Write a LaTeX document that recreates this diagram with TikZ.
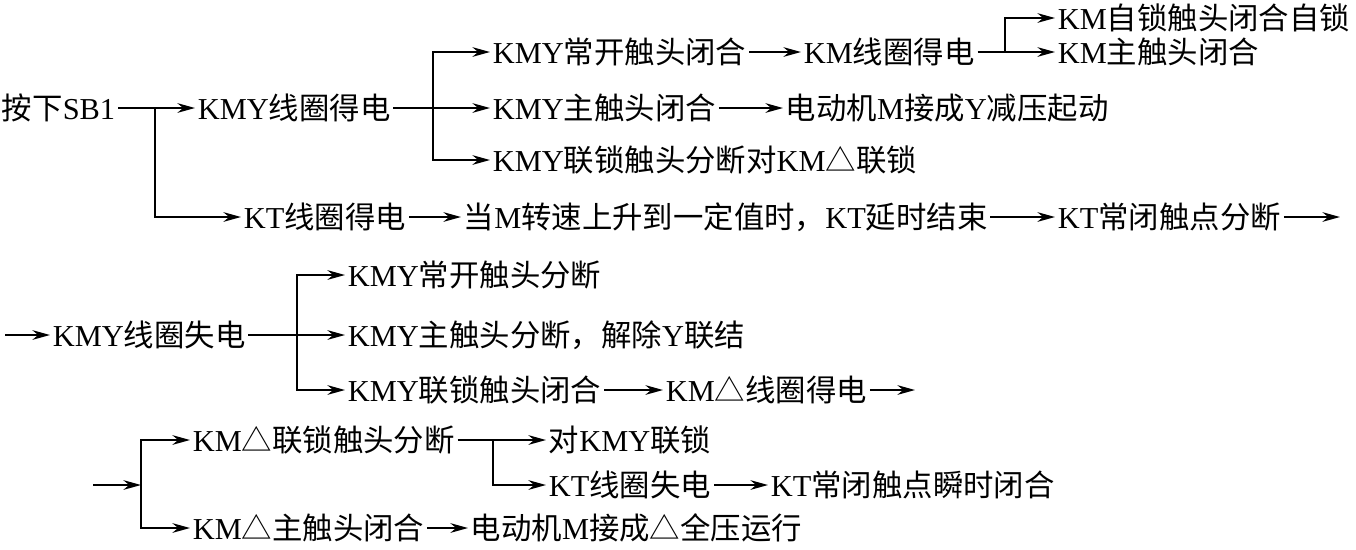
\documentclass[tikz,border=0pt]{standalone}
\usepackage{fontspec}
\setmainfont{Liberation Serif}
\newfontfamily\cjk{Noto Sans CJK SC}
% switch to the CJK font for Chinese characters
\XeTeXinterchartokenstate=1
\newXeTeXintercharclass\cjkcls
\count255="3000
\loop\ifnum\count255<"A000
  \XeTeXcharclass\count255=\cjkcls
  \advance\count255 by 1
\repeat
\XeTeXcharclass"FF0C=\cjkcls
\XeTeXcharclass"25B3=\cjkcls
\XeTeXinterchartoks 0 \cjkcls={\begingroup\cjk}
\XeTeXinterchartoks 4095 \cjkcls={\begingroup\cjk}
\XeTeXinterchartoks \cjkcls 0={\endgroup}
\XeTeXinterchartoks \cjkcls 4095={\endgroup}
\usetikzlibrary{arrows.meta}

\begin{document}
\begin{tikzpicture}[
    x=0.02cm, y=-0.02cm,
    txt/.style={anchor=west, inner sep=1.5pt, text height=15pt, text depth=2pt, font=\fontsize{17.3}{19}\selectfont},
    arrow/.style={-{Stealth[length=10pt, width=5.5pt]}, line width=1.1pt},
]
\useasboundingbox (0,0) rectangle (1356,549);

% Fork positions
\coordinate (f1) at (155,0);
\coordinate (f2) at (433,0);
\coordinate (f3) at (1005,0);
\coordinate (f4) at (297,0);
\coordinate (f5) at (141,485);
\coordinate (f6) at (493,0);

% Part 1: start
\node[txt] (sb1) at (-1,108) {按下SB1};
\node[txt] (kmy) at (195,108) {KMY线圈得电};
\node[txt] (kmyno) at (490,52) {KMY常开触头闭合};
\node[txt] (km) at (801,52) {KM线圈得电};
\node[txt] (kmself) at (1055,18) {KM自锁触头闭合自锁};
\node[txt] (kmmain) at (1055,52) {KM主触头闭合};
\node[txt] (kmymain) at (490,108) {KMY主触头闭合};
\node[txt] (ystart) at (783,108) {电动机M接成Y减压起动};
\node[txt] (kmylock) at (490,160) {KMY联锁触头分断对KM△联锁};
\node[txt] (kt) at (241,217) {KT线圈得电};
\node[txt] (speed) at (461,217) {当M转速上升到一定值时，KT延时结束};
\node[txt] (ktnc) at (1055,217) {KT常闭触点分断};
\coordinate (end1) at (1340,217);

% Part 2: star released
\coordinate (start2) at (5,335);
\node[txt] (kmyoff) at (50,335) {KMY线圈失电};
\node[txt] (kmyno2) at (345,275) {KMY常开触头分断};
\node[txt] (kmymain2) at (345,335) {KMY主触头分断，解除Y联结};
\node[txt] (kmylock2) at (345,390) {KMY联锁触头闭合};
\node[txt] (kmd) at (663,390) {KM△线圈得电};
\coordinate (end2) at (915,390);

% Part 3: delta running
\coordinate (start3) at (93,485);
\node[txt] (kmdlock) at (190,440) {KM△联锁触头分断};
\node[txt] (lockkmy) at (546,440) {对KMY联锁};
\node[txt] (ktoff) at (546,485) {KT线圈失电};
\node[txt] (ktclose) at (768,485) {KT常闭触点瞬时闭合};
\node[txt] (kmdmain) at (190,528) {KM△主触头闭合};
\node[txt] (drun) at (468,528) {电动机M接成△全压运行};

% Arrows
\draw[arrow] (sb1.east) -- (kmy.west);
\draw[arrow] (sb1.east -| f1) |- (kt.west);
\draw[arrow] (kmy.east) -- (kmymain.west);
\draw[arrow] (kmy.east -| f2) |- (kmyno.west);
\draw[arrow] (kmy.east -| f2) |- (kmylock.west);
\draw[arrow] (kmyno.east) -- (km.west);
\draw[arrow] (km.east) -- (kmmain.west);
\draw[arrow] (km.east -| f3) |- (kmself.west);
\draw[arrow] (kmymain.east) -- (ystart.west);
\draw[arrow] (kt.east) -- (speed.west);
\draw[arrow] (speed.east) -- (ktnc.west);
\draw[arrow] (ktnc.east) -- (end1);

\draw[arrow] (start2) -- (kmyoff.west);
\draw[arrow] (kmyoff.east) -- (kmymain2.west);
\draw[arrow] (kmyoff.east -| f4) |- (kmyno2.west);
\draw[arrow] (kmyoff.east -| f4) |- (kmylock2.west);
\draw[arrow] (kmylock2.east) -- (kmd.west);
\draw[arrow] (kmd.east) -- (end2);

\draw[arrow] (start3) -- (f5);
\draw[arrow] (f5) |- (kmdlock.west);
\draw[arrow] (f5) |- (kmdmain.west);
\draw[arrow] (kmdlock.east) -- (lockkmy.west);
\draw[arrow] (kmdlock.east -| f6) |- (ktoff.west);
\draw[arrow] (ktoff.east) -- (ktclose.west);
\draw[arrow] (kmdmain.east) -- (drun.west);
\end{tikzpicture}
\end{document}
